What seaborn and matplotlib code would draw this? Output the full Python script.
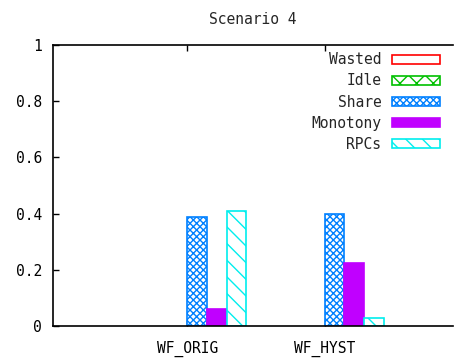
import matplotlib
matplotlib.use("Agg")
import matplotlib.pyplot as plt
import seaborn as sns
import pandas as pd

categories = ["WF_ORIG", "WF_HYST"]
series = ["Wasted", "Idle", "Share", "Monotony", "RPCs"]
wasted = [0.0, 0.0]
idle = [0.0, 0.0]
share = [0.388, 0.400]
monotony = [0.060, 0.224]
rpcs = [0.410, 0.028]
yticks = [0, 0.2, 0.4, 0.6, 0.8, 1]
ytick_labels = ["0", "0.2", "0.4", "0.6", "0.8", "1"]

colors = {"Wasted": "#ff0000", "Idle": "#00c000", "Share": "#0080ff",
          "Monotony": "#c000ff", "RPCs": "#00eeee"}
hatches = {"Wasted": "", "Idle": "xx", "Share": "xxxxx", "Monotony": "", "RPCs": "\\\\"}
filled = {"Monotony"}

rows = []
for s, vals in zip(series, [wasted, idle, share, monotony, rpcs]):
    for c, v in zip(categories, vals):
        rows.append({"cat": c, "series": s, "value": v})
df = pd.DataFrame(rows)

sns.set_style("white")
plt.rcParams["font.family"] = ["DejaVu Sans Mono", "DejaVu Sans"]
plt.rcParams["hatch.linewidth"] = 1.0

fig = plt.figure(figsize=(4.54, 3.6), dpi=100)
ax = fig.add_axes([53/454, 34/360, 400/454, 281/360])

width = 0.715
sns.barplot(data=df, x="cat", y="value", hue="series", order=categories,
            hue_order=series, width=width, gap=0, ax=ax, legend=False,
            palette=colors, saturation=1)

nser = len(series)
for i, s in enumerate(series):
    cont = ax.containers[i]
    for p in cont:
        if s in filled:
            p.set_facecolor(colors[s])
            p.set_edgecolor(colors[s])
        else:
            p.set_facecolor("white")
            p.set_edgecolor(colors[s])
            p.set_hatch(hatches[s])
        p.set_linewidth(1.2)
        if p.get_height() == 0:
            p.set_visible(False)

# legend proxies
from matplotlib.patches import Patch
handles = []
for s in series:
    if s in filled:
        handles.append(Patch(facecolor=colors[s], edgecolor=colors[s], label=s, linewidth=1.2))
    else:
        handles.append(Patch(facecolor="white", edgecolor=colors[s], hatch=hatches[s], label=s, linewidth=1.2))
leg = ax.legend(handles=handles, loc="upper right", frameon=False, markerfirst=False,
                fontsize=10.5, handlelength=3.3, handleheight=0.55, handletextpad=0.7,
                labelspacing=0.42, borderaxespad=0.1, bbox_to_anchor=(0.985, 1.0))

bw = width / nser
ax.set_xticks([i - bw / 2 for i in range(len(categories))])
ax.set_xticklabels(categories)
ax.set_xlim(-bw / 2 - 0.98, -bw / 2 + 1.935)
ax.set_ylim(0, 1)
ax.set_yticks(yticks)
ax.set_yticklabels(ytick_labels)
ax.set_xlabel("")
ax.set_ylabel("")
ax.tick_params(axis="both", direction="in", length=4, width=1, labelsize=10.5, colors="black")
ax.tick_params(axis="x", top=True, bottom=True, pad=10.5)
ax.tick_params(axis="y", left=True, right=False, pad=8)
for sp in ["left", "bottom", "top"]:
    ax.spines[sp].set_color("black")
    ax.spines[sp].set_linewidth(1.2)
ax.spines["right"].set_visible(False)
ax.set_title("Scenario 4", fontsize=10.5, pad=15)

fig.savefig("out.png", dpi=100)
